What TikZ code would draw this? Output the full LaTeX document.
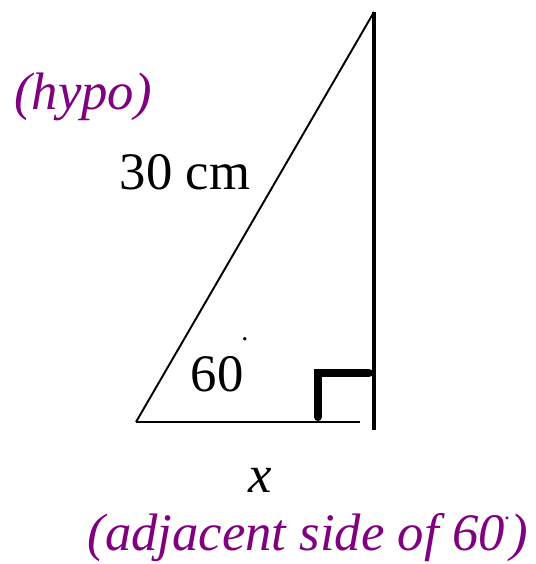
\documentclass[tikz,border=0pt]{standalone}
\usepackage{fontspec}
\setmainfont{Liberation Serif}
\usepackage{tikz}
\usetikzlibrary{positioning,calc}
\definecolor{notepurple}{HTML}{800080}
\newcommand{\degdot}{\raisebox{0.6em}{\fontsize{14}{16}\selectfont .}}

\begin{document}
\begin{tikzpicture}[
  x=0.02cm, y=-0.02cm,
  lbl/.style={inner sep=0pt,font=\fontsize{30}{36}\selectfont},
  note/.style={lbl,text=notepurple,font=\fontsize{30}{36}\selectfont\itshape},
  side/.style={line width=1.1pt},
  wall/.style={line width=2.4pt},
  rmark/.style={line width=4.6pt,line cap=round,line join=miter}
]
  \useasboundingbox (0,0) rectangle (536,564);

  % triangle corners
  \coordinate (base) at (136,422);
  \coordinate (top) at (374,12);
  \coordinate (baseend) at (360,422);
  \coordinate (foot) at (374,430);

  \draw[side] (base) -- (top);
  \draw[side] (base) -- (baseend);
  \draw[wall] (top) -- (foot);

  % right angle mark
  \coordinate (rm1) at (318,417);
  \coordinate (rm2) at (318,373);
  \coordinate (rm3) at (369,373);
  \draw[rmark] (rm1) -- (rm2) -- (rm3);

  % labels
  \node[note] (hypo) at (83,97) {(hypo)};
  \node[lbl] (hyplen) at (185,172) {30 cm};
  \node[lbl] (angle) at (217,374) {60};
  \node[lbl,font=\fontsize{16}{18}\selectfont] (angdot) at (245,339) {.};
  \node[lbl,font=\fontsize{30}{36}\selectfont\itshape] (adj) at (260,480) {x};
  \node[note] (adjnote) at (308,538) {(adjacent side of 60\degdot)};
\end{tikzpicture}
\end{document}
